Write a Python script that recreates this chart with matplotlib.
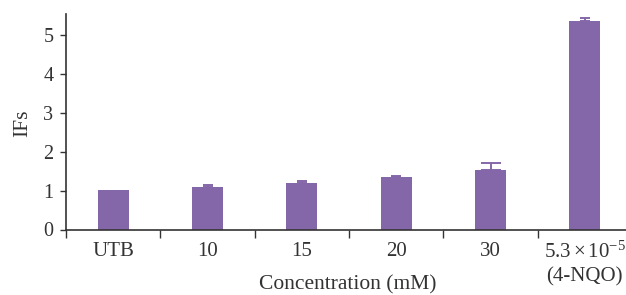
import matplotlib
matplotlib.use("Agg")
import matplotlib.pyplot as plt
import numpy as np

categories = ["UTB", "10", "15", "20", "30", "$5.3\\times10^{-5}$\n(4-NQO)"]
values = [1.02, 1.09, 1.20, 1.35, 1.53, 5.36]
errors = [0.0, 0.05, 0.04, 0.02, 0.19, 0.07]
capsizes = [0, 3.5, 3.3, 3.5, 7, 3.3]

plt.rcParams['font.family'] = ['Liberation Serif', 'DejaVu Serif']
plt.rcParams['mathtext.fontset'] = 'custom'
plt.rcParams['mathtext.rm'] = 'Liberation Serif'
plt.rcParams['mathtext.it'] = 'Liberation Serif:italic'

txt = '#333333'
bar_color = '#8467A8'
fs = 15

fig = plt.figure(figsize=(6.26, 2.95), dpi=100)
ax = fig.add_axes([66/626, 65.5/295, 566/626, 215.5/295])

x = np.arange(len(categories))
ax.bar(x, values, width=0.33, color=bar_color, zorder=2)
for xi, v, e, cs in zip(x, values, errors, capsizes):
    if e > 0:
        ax.errorbar([xi], [v], yerr=[[0], [e]], fmt='none',
                    ecolor=bar_color, elinewidth=1.4, capsize=cs, capthick=1.4, zorder=3)

ax.set_xlim(-0.5, 5.5)
ax.set_ylim(0, 5.54)
ax.set_yticks([0, 1, 2, 3, 4, 5])
ax.set_xticks(x)
ax.set_xticklabels(categories, linespacing=1.25)
ax.set_xticks(np.arange(-0.5, 5.6, 1.0), minor=True)
ax.tick_params(axis='x', which='major', length=0, pad=9, labelsize=fs, colors=txt)
ax.tick_params(axis='x', which='minor', length=5.5, width=1, color=txt, direction='out')
ax.tick_params(axis='y', length=4, width=1, color=txt, labelsize=14.5, labelcolor=txt, pad=5)

for s in ['top', 'right']:
    ax.spines[s].set_visible(False)
for s in ['left', 'bottom']:
    ax.spines[s].set_color(txt)
    ax.spines[s].set_linewidth(1.2)

fig.text(23/626, 1 - 123/295, 'IFs', rotation=90, fontsize=15.5, color=txt,
         ha='center', va='center')
fig.text(348/626, 1 - 285/295, 'Concentration (mM)', fontsize=15.5, color=txt,
         ha='center', va='center')

fig.savefig('out.png', dpi=100)
